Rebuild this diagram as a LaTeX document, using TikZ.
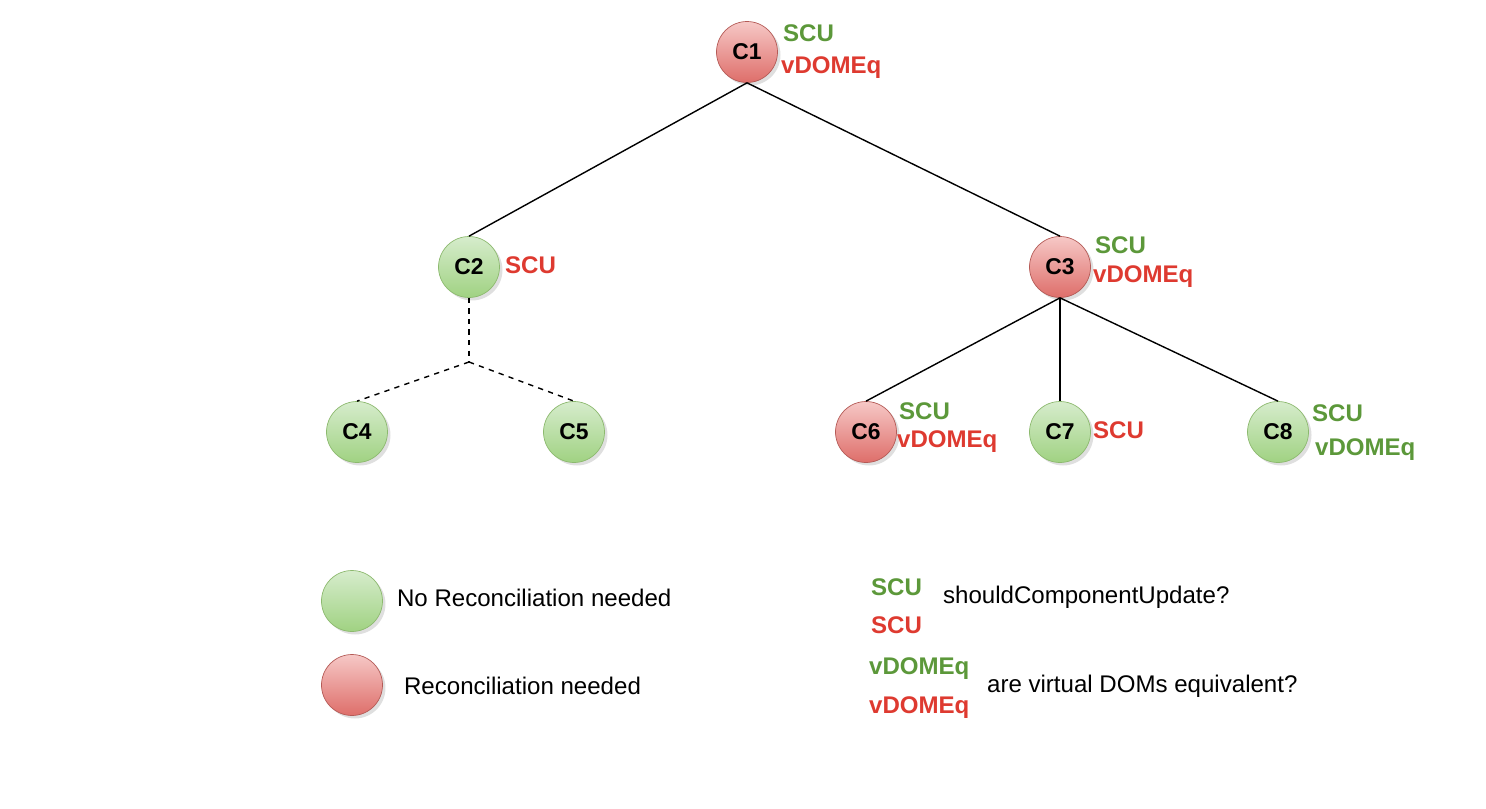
\documentclass[tikz,border=0pt]{standalone}
\usepackage{fontspec}
\setmainfont{Liberation Sans}
\usetikzlibrary{shadows}
\definecolor{okgreen}{RGB}{92,152,58}
\definecolor{badred}{RGB}{222,58,48}
\definecolor{cleantop}{RGB}{214,236,204}
\definecolor{cleanbot}{RGB}{160,210,130}
\definecolor{cleanline}{RGB}{140,185,110}
\definecolor{dirtytop}{RGB}{246,200,198}
\definecolor{dirtybot}{RGB}{222,110,106}
\definecolor{dirtyline}{RGB}{180,90,86}
\begin{document}
\begin{tikzpicture}[
  x=0.02cm, y=-0.02cm,
  every node/.style={inner sep=1pt, font=\fontsize{13.7}{16}\selectfont},
  comp/.style={circle, draw, minimum size=1.22cm, inner sep=0pt,
    font=\fontsize{13}{15}\selectfont\bfseries,
    drop shadow={shadow xshift=0.06cm, shadow yshift=-0.06cm, opacity=0.25}},
  clean/.style={comp, draw=cleanline, top color=cleantop, bottom color=cleanbot},
  dirty/.style={comp, draw=dirtyline, top color=dirtytop, bottom color=dirtybot},
  gtext/.style={anchor=west, text=okgreen, font=\fontsize{13.7}{16}\selectfont\bfseries},
  rtext/.style={anchor=west, text=badred, font=\fontsize{13.7}{16}\selectfont\bfseries},
  note/.style={anchor=west},
  edge/.style={draw, line width=0.8pt},
  skip/.style={edge, dashed}]

  \useasboundingbox (0,0) rectangle (1486,808);

  %% ---------------- tree ----------------
  % components
  \node[dirty] (c1) at (747, 52) {C1};
  \node[clean] (c2) at (469, 267) {C2};
  \node[dirty] (c3) at (1060, 267) {C3};
  \node[clean] (c4) at (357, 432) {C4};
  \node[clean] (c5) at (574, 432) {C5};
  \node[dirty] (c6) at (866, 432) {C6};
  \node[clean] (c7) at (1060, 432) {C7};
  \node[clean] (c8) at (1278, 432) {C8};
  % edges
  \draw[edge] (c1.south) -- (c2.north);
  \draw[edge] (c1.south) -- (c3.north);
  \draw[edge] (c3.south) -- (c6.north);
  \draw[edge] (c3.south) -- (c7.north);
  \draw[edge] (c3.south) -- (c8.north);
  % the subtree below C2 is skipped: dashed edges through a split point
  \coordinate (split) at (469, 362);
  \draw[skip] (c2.south) -- (split);
  \draw[skip] (split) -- (c4.north);
  \draw[skip] (split) -- (c5.north);
  % check labels
  \node[gtext] (c1scu) at (781, 33) {SCU};
  \node[rtext] (c1veq) at (779, 68) {vDOMEq};
  \node[rtext] (c2scu) at (503, 265) {SCU};
  \node[gtext] (c3scu) at (1093, 245) {SCU};
  \node[rtext] (c3veq) at (1091, 277) {vDOMEq};
  \node[gtext] (c6scu) at (897, 411) {SCU};
  \node[rtext] (c6veq) at (895, 442) {vDOMEq};
  \node[rtext] (c7scu) at (1091, 430) {SCU};
  \node[gtext] (c8scu) at (1310, 413) {SCU};
  \node[gtext] (c8veq) at (1313, 450) {vDOMEq};

  %% ---------------- legend ----------------
  % colours of the components
  \node[clean] (lgclean) at (352, 601) {};
  \node[dirty] (lgdirty) at (352, 685) {};
  \node[note] (lgcleantxt) at (395, 598) {No Reconciliation needed};
  \node[note] (lgdirtytxt) at (402, 686) {Reconciliation needed};
  % colours of the checks
  \node[gtext] (lgscuy) at (869, 587) {SCU};
  \node[rtext] (lgscun) at (869, 625) {SCU};
  \node[note] (lgscutxt) at (941, 597) {shouldComponentUpdate?};
  \node[gtext] (lgveqy) at (867, 669) {vDOMEq};
  \node[rtext] (lgveqn) at (867, 708) {vDOMEq};
  \node[note] (lgveqtxt) at (985, 686) {are virtual DOMs equivalent?};

\end{tikzpicture}
\end{document}
